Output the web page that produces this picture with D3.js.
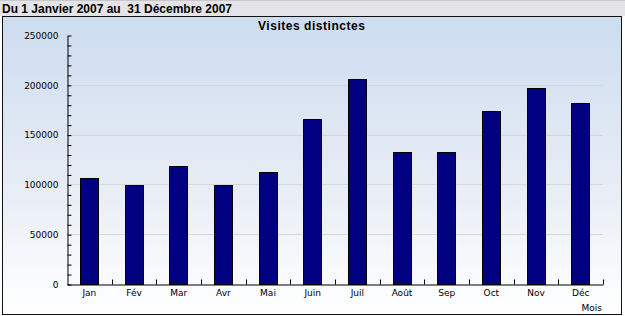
<!DOCTYPE html>
<html>
<head>
<meta charset="utf-8">
<script src="https://cdn.jsdelivr.net/npm/d3@7"></script>
<style>
  html, body { margin: 0; padding: 0; background: #fff; }
  svg { display: block; }
</style>
</head>
<body>
<script>
const MONTHS = ["Jan", "Fév", "Mar", "Avr", "Mai", "Juin", "Juil", "Août", "Sep", "Oct", "Nov", "Déc"];
const VISITS = [106000, 99000, 118000, 99000, 112000, 166000, 206000, 133000, 133000, 174000, 197000, 182000];
const Y_TICKS = [0, 50000, 100000, 150000, 200000, 250000];
const HEADER = "Du 1 Janvier 2007 au  31 Décembre 2007";
const CHART_TITLE = "Visites distinctes";
const X_LABEL = "Mois";

const width = 625,
  height = 316,
  plot = { left: 67, right: 603, top: 35, bottom: 284 };

const svg = d3
  .select("body")
  .append("svg")
  .attr("width", width)
  .attr("height", height);

const defs = svg.append("defs");
const grad = defs
  .append("linearGradient")
  .attr("id", "bg")
  .attr("x1", 0).attr("y1", 0)
  .attr("x2", 0).attr("y2", 1);
grad.append("stop").attr("offset", "0%").attr("stop-color", "#cddcf0");
grad.append("stop").attr("offset", "55%").attr("stop-color", "#e6ecf5");
grad.append("stop").attr("offset", "100%").attr("stop-color", "#ffffff");

// header strip
svg.append("rect").attr("x", 0).attr("y", 0).attr("width", width).attr("height", 16).attr("fill", "#e4e4e8");
svg.append("rect").attr("x", 0).attr("y", 0).attr("width", width).attr("height", 1).attr("fill", "#c8c8cc");
svg
  .append("text")
  .attr("x", 2)
  .attr("y", 13)
  .style("white-space", "pre")
  .attr("font-family", "Liberation Sans, Arial, sans-serif")
  .attr("font-weight", "bold")
  .attr("font-size", 12)
  .attr("textLength", 230)
  .attr("lengthAdjust", "spacingAndGlyphs")
  .attr("fill", "#000")
  .text(HEADER);

// panel
svg
  .append("rect")
  .attr("x", 2.5)
  .attr("y", 16.5)
  .attr("width", 619)
  .attr("height", 298)
  .attr("fill", "url(#bg)")
  .attr("stroke", "#111")
  .attr("stroke-width", 1);

svg
  .append("text")
  .attr("x", 258)
  .attr("y", 30)
  .attr("font-family", "Liberation Sans, Arial, sans-serif")
  .attr("font-weight", "bold")
  .attr("font-size", 12)
  .attr("textLength", 107)
  .attr("lengthAdjust", "spacing")
  .text(CHART_TITLE);

const xScale = d3
  .scaleBand()
  .domain(MONTHS)
  .range([plot.left, plot.right])
  .paddingInner(0.575)
  .paddingOuter(0.2875);

const yScale = d3
  .scaleLinear()
  .domain([0, 250000])
  .range([plot.bottom, plot.top]);

// gridlines
svg
  .append("g")
  .selectAll("line")
  .data(Y_TICKS.filter(t => t > 0 && t < 250000))
  .enter()
  .append("line")
  .attr("x1", plot.left)
  .attr("x2", plot.right)
  .attr("y1", d => Math.round(yScale(d)) + 0.5)
  .attr("y2", d => Math.round(yScale(d)) + 0.5)
  .attr("stroke", "#d6d6d6");

// bars
svg
  .append("g")
  .selectAll("rect")
  .data(VISITS)
  .enter()
  .append("rect")
  .attr("x", (d, i) => Math.round(xScale(MONTHS[i])) + 0.5)
  .attr("y", d => Math.round(yScale(d)) + 0.5)
  .attr("width", Math.round(xScale.bandwidth()) - 1)
  .attr("height", d => Math.round(yScale(0)) - Math.round(yScale(d)))
  .attr("fill", "#000080")
  .attr("stroke", "#000")
  .attr("stroke-width", 1);

// y axis
const yAxis = d3
  .axisLeft(yScale)
  .tickValues(d3.range(0, 250001, 10000))
  .tickSize(-4)
  .tickSizeOuter(0)
  .tickFormat(d => (Y_TICKS.includes(d) ? d : ""));

const gy = svg
  .append("g")
  .attr("transform", `translate(${plot.left + 0.5}, 0.5)`)
  .call(yAxis);
gy.select(".domain").attr("stroke", "#000");
gy.selectAll(".tick line").attr("stroke", "#000");
gy.selectAll(".tick text")
  .attr("x", -9)
  .attr("font-family", "DejaVu Sans, Verdana, sans-serif")
  .attr("font-size", 9)
  .attr("fill", "#000");

// x axis
const xAxis = d3.axisBottom(xScale).tickSize(0).tickSizeOuter(0);
const gx = svg
  .append("g")
  .attr("transform", `translate(0, ${plot.bottom + 0.5})`)
  .call(xAxis);
gx.select(".domain").attr("stroke", "#000");
gx.selectAll(".tick text")
  .attr("y", 5)
  .attr("dy", "0.71em")
  .attr("font-family", "DejaVu Sans, Verdana, sans-serif")
  .attr("font-size", 9)
  .attr("fill", "#000");

// x ticks at band boundaries
gx.append("g")
  .selectAll("line")
  .data(MONTHS)
  .enter()
  .append("line")
  .attr("x1", d => Math.round(xScale(d) - xScale.step() * 0.2875 + xScale.step()) + 0.5)
  .attr("x2", d => Math.round(xScale(d) - xScale.step() * 0.2875 + xScale.step()) + 0.5)
  .attr("y1", 0)
  .attr("y2", -5)
  .attr("stroke", "#000");

svg
  .append("text")
  .attr("x", 602)
  .attr("y", 311)
  .attr("text-anchor", "end")
  .attr("font-family", "DejaVu Sans, Verdana, sans-serif")
  .attr("font-size", 9)
  .text(X_LABEL);
</script>
</body>
</html>
